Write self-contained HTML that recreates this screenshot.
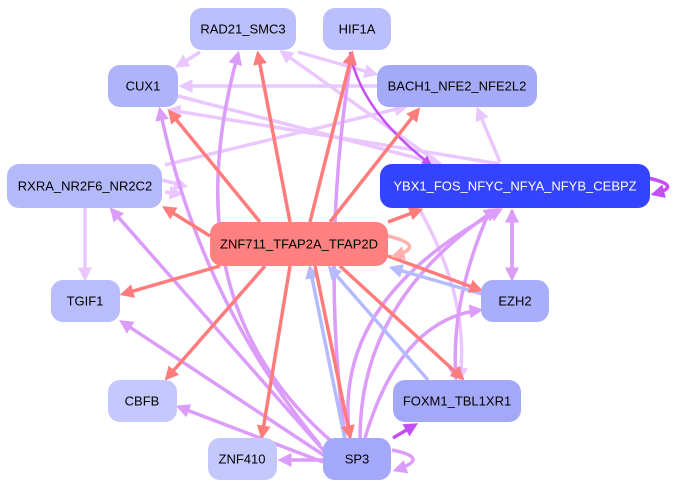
<!DOCTYPE html>
<html><head><style>
html,body{margin:0;padding:0;background:#fff;width:681px;height:489px;overflow:hidden}
text{font-family:"Liberation Sans",sans-serif;font-size:13px;text-anchor:middle;dominant-baseline:central}
</style></head><body>
<svg width="681" height="489" viewBox="0 0 681 489" xmlns="http://www.w3.org/2000/svg">
<defs>
<marker id="r" markerWidth="4" markerHeight="4" refX="3" refY="2" orient="auto" markerUnits="strokeWidth"><path d="M0,0L4,2L0,4z" fill="#ff7c7c"/></marker>
<marker id="p" markerWidth="4" markerHeight="4" refX="3" refY="2" orient="auto" markerUnits="strokeWidth"><path d="M0,0L4,2L0,4z" fill="#dc9cfa"/></marker>
<marker id="l" markerWidth="4" markerHeight="4" refX="3" refY="2" orient="auto" markerUnits="strokeWidth"><path d="M0,0L4,2L0,4z" fill="#eac8ff"/></marker>
<marker id="m" markerWidth="4" markerHeight="4" refX="3" refY="2" orient="auto" markerUnits="strokeWidth"><path d="M0,0L4,2L0,4z" fill="#c450f4"/></marker>
<marker id="b" markerWidth="4" markerHeight="4" refX="3" refY="2" orient="auto" markerUnits="strokeWidth"><path d="M0,0L4,2L0,4z" fill="#b4bcff"/></marker>
<marker id="s" markerWidth="4" markerHeight="4" refX="3" refY="2" orient="auto" markerUnits="strokeWidth"><path d="M0,0L4,2L0,4z" fill="#ffb0b0"/></marker>
</defs>
<g fill="none" stroke-width="3.5">
<g stroke="#eac8ff" marker-end="url(#l)">
<path d="M200,52 L178,66"/>
<path d="M377,86 L182,86"/>
<path d="M298,52 L375,74"/>
<path d="M178,96 L440,164"/>
<path d="M165,165 L405,107"/>
<path d="M500,162 L478,110"/>
<path d="M85,208 L85,278"/>
<path d="M440,164 L282,52"/>
<path d="M500,164 L170,110"/>
<path d="M162,180 L185,186"/>
<path d="M165,192 L180,194"/>
<path d="M420,210 Q470,300 460,378"/>
</g>
<g stroke="#dc9cfa" marker-end="url(#p)">
<path d="M325,452 L112,210"/>
<path d="M325,456 L122,322"/>
<path d="M323,462 L179,407"/>
<path d="M323,460 L281,460"/>
<path d="M330,440 Q170,300 238,54"/>
<path d="M345,438 Q320,250 352,54"/>
<path d="M350,438 Q330,300 500,210"/>
<path d="M360,438 Q360,300 495,210"/>
<path d="M365,438 Q400,320 480,310"/>
<path d="M320,445 Q200,300 160,110"/>
<path d="M392,450 Q432,458 396,470"/>
<path d="M512,210 L512,278"/>
<path d="M512,278 L512,212"/>
<path d="M490,210 Q450,300 456,378"/>
</g>
<path d="M393,438 L415,425" stroke="#c450f4" marker-end="url(#m)"/>
<path d="M350,52 Q360,110 430,164" stroke="#c450f4" stroke-width="2.5" marker-end="url(#m)"/>
<path d="M648,178 Q684,186 654,194" stroke="#c450f4" marker-end="url(#m)"/>
<g stroke="#b4bcff" marker-end="url(#b)">
<path d="M345,440 L310,268"/>
<path d="M428,380 L330,268"/>
<path d="M482,294 L392,268"/>
</g>
<g stroke="#ff7c7c" marker-end="url(#r)">
<path d="M260,222 L170,112"/>
<path d="M290,222 L258,54"/>
<path d="M310,222 L352,54"/>
<path d="M330,222 L418,110"/>
<path d="M210,236 L165,208"/>
<path d="M388,222 L420,210"/>
<path d="M220,266 L123,294"/>
<path d="M265,266 L167,378"/>
<path d="M290,266 L262,436"/>
<path d="M315,266 L350,436"/>
<path d="M388,256 L480,290"/>
<path d="M340,266 L462,378"/>
</g>
<path d="M388,236 Q428,246 394,256" stroke="#ffb0b0" marker-end="url(#s)"/>
</g>
<g>
<rect x="190" y="8" width="106" height="42" rx="12" fill="#bbbffb"/><text x="243" y="29">RAD21_SMC3</text>
<rect x="323" y="8" width="68" height="42" rx="12" fill="#bbbffb"/><text x="357" y="29">HIF1A</text>
<rect x="108" y="65" width="70" height="42" rx="12" fill="#aeb3fa"/><text x="143" y="86">CUX1</text>
<rect x="377" y="65" width="160" height="42" rx="12" fill="#a4aaf8"/><text x="457" y="86">BACH1_NFE2_NFE2L2</text>
<rect x="7" y="164" width="155" height="44" rx="12" fill="#b4b9fa"/><text x="85" y="186">RXRA_NR2F6_NR2C2</text>
<rect x="380" y="164" width="270" height="44" rx="12" fill="#3443ff"/><text x="515" y="186" fill="#fff">YBX1_FOS_NFYC_NFYA_NFYB_CEBPZ</text>
<rect x="210" y="222" width="178" height="44" rx="12" fill="#ff8080"/><text x="299" y="244">ZNF711_TFAP2A_TFAP2D</text>
<rect x="51" y="280" width="69" height="42" rx="12" fill="#b9bdfb"/><text x="85" y="301">TGIF1</text>
<rect x="481" y="280" width="68" height="42" rx="12" fill="#a9aefa"/><text x="515" y="301">EZH2</text>
<rect x="108" y="380" width="69" height="42" rx="12" fill="#c5c8fc"/><text x="142" y="401">CBFB</text>
<rect x="393" y="380" width="128" height="42" rx="12" fill="#a3a9f8"/><text x="457" y="401">FOXM1_TBL1XR1</text>
<rect x="208" y="438" width="69" height="42" rx="12" fill="#c5c8fc"/><text x="242" y="459">ZNF410</text>
<rect x="323" y="438" width="68" height="42" rx="12" fill="#a3a9f8"/><text x="357" y="459">SP3</text>
</g>
</svg>
</body></html>
